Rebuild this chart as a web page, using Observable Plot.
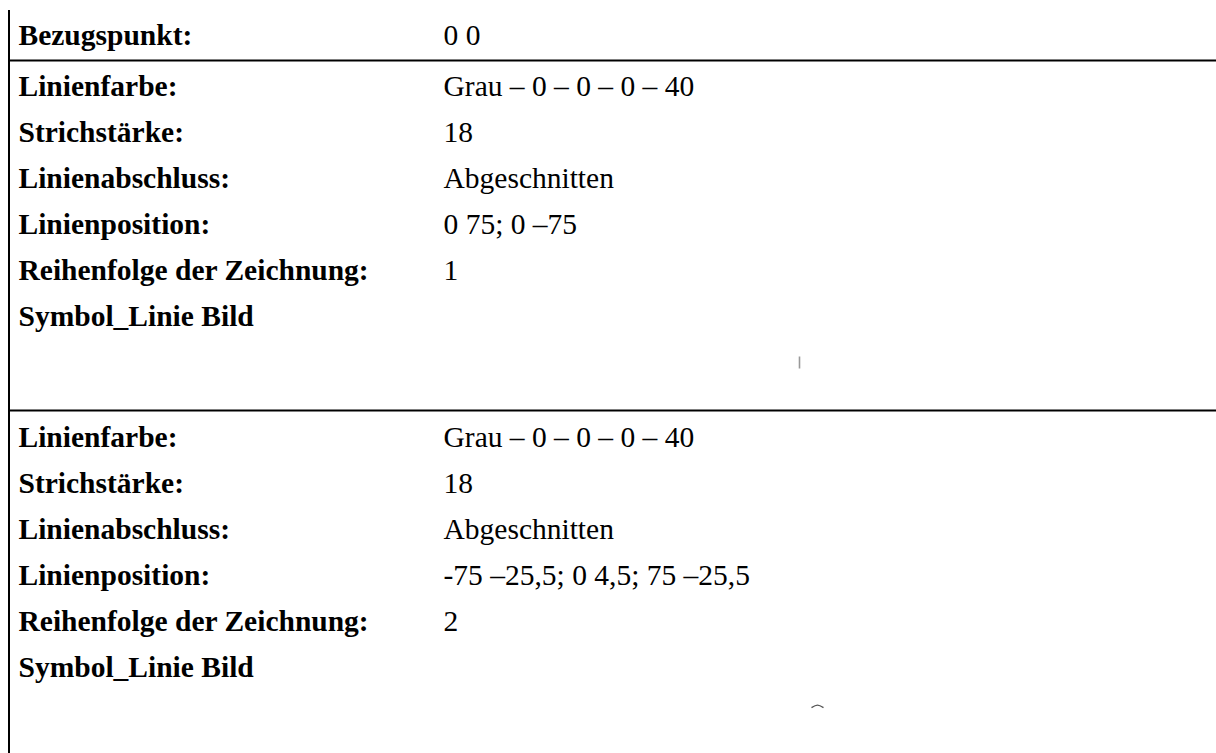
<!DOCTYPE html>
<html>
<head>
<meta charset="utf-8">
<script src="https://cdn.jsdelivr.net/npm/d3@7"></script>
<script src="https://cdn.jsdelivr.net/npm/@observablehq/plot@0.6"></script>
<style>
  html, body { margin: 0; padding: 0; background: #fff; }
  #chart svg { display: block; }
</style>
</head>
<body>
<div id="chart"></div>
<script>
// ---- data ----
const headerLabel = "Bezugspunkt:";
const headerValue = "0 0";

const rowLabels = ["Linienfarbe:", "Strichstärke:", "Linienabschluss:", "Linienposition:", "Reihenfolge der Zeichnung:", "Symbol_Linie Bild"];

const values1 = ["Grau – 0 – 0 – 0 – 40", "18", "Abgeschnitten", "0 75; 0 –75", "1", ""];
const values2 = ["Grau – 0 – 0 – 0 – 40", "18", "Abgeschnitten", "-75 –25,5; 0 4,5; 75 –25,5", "2", ""];

const linePos1 = [[0, 75], [0, -75]];
const linePos2 = [[-75, -25.5], [0, 4.5], [75, -25.5]];

// ---- layout (in code, not data) ----
const W = 1216, H = 753;
const labelX = 18, valueX = 443;
const headerY = 35;
const sepYs = [60, 410];
const firstRowY = [86, 437];
const rowStep = 46;
const symbolCenters = [{cx: 799, cy: 362, color: "#999999"}, {cx: 817, cy: 705, color: "#555555"}];
const symScale = 0.08;

const textRows = [];
textRows.push({label: headerLabel, value: headerValue, y: headerY});
[values1, values2].forEach((vals, s) => {
  rowLabels.forEach((lab, i) => {
    textRows.push({label: lab, value: vals[i], y: firstRowY[s] + i * rowStep});
  });
});

const symPts = [];
[linePos1, linePos2].forEach((pts, s) => {
  const c = symbolCenters[s];
  pts.forEach(([px, py]) => symPts.push({sym: s, x: c.cx + px * symScale, y: c.cy - py * symScale}));
});

const font = "Liberation Serif, 'Times New Roman', serif";
const fs = 29.5;

const chart = Plot.plot({
  width: W,
  height: H,
  margin: 0,
  x: {domain: [0, W], range: [0, W], axis: null},
  y: {domain: [0, H], range: [0, H], axis: null},
  style: {background: "#fff"},
  marks: [
    Plot.ruleX([8.5], {y1: 10, y2: H, stroke: "#000", strokeWidth: 2}),
    Plot.ruleY(sepYs, {x1: 8, x2: W, stroke: "#000", strokeWidth: 2}),
    Plot.text(textRows, {x: () => labelX, y: "y", text: "label", textAnchor: "start", fontFamily: font, fontWeight: "bold", fontSize: fs, fill: "#000"}),
    Plot.text(textRows, {x: () => valueX, y: "y", text: "value", textAnchor: "start", fontFamily: font, fontSize: fs, fill: "#000"}),
    Plot.line(symPts.filter(d => d.sym === 0), {x: "x", y: "y", stroke: symbolCenters[0].color, strokeWidth: 1.6, strokeLinecap: "butt"}),
    Plot.line(symPts.filter(d => d.sym === 1), {x: "x", y: "y", stroke: symbolCenters[1].color, strokeWidth: 1.4, strokeLinecap: "butt", curve: "natural"})
  ]
});
document.getElementById("chart").appendChild(chart);
</script>
</body>
</html>
